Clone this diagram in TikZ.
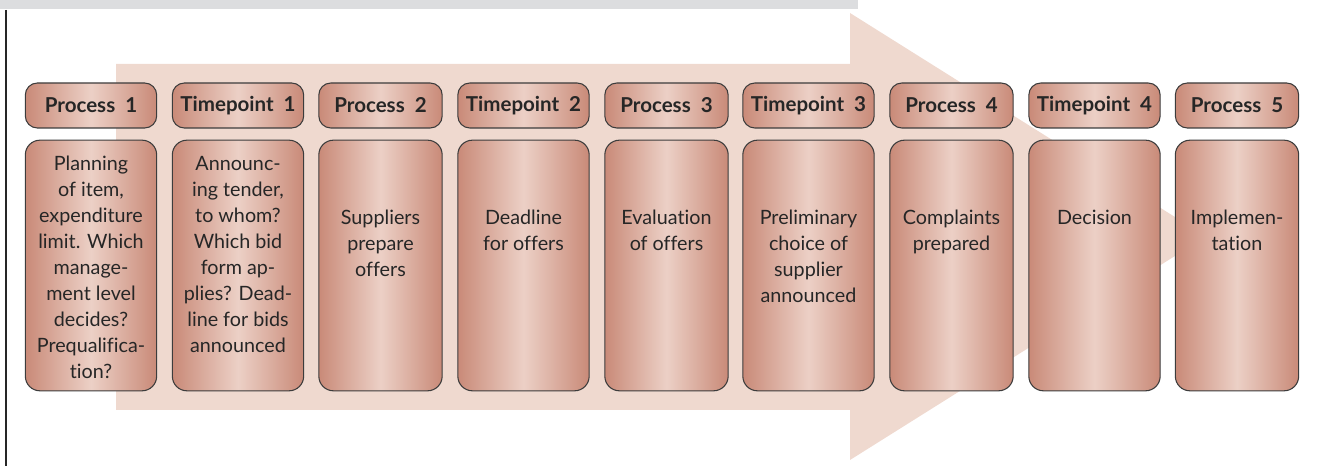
\documentclass[tikz,border=0pt]{standalone}
\usepackage{fontspec}
\setmainfont{Lato}[Ligatures=NoCommon]
\definecolor{arrowc}{HTML}{EFD9CF}
\definecolor{boxedge}{HTML}{C98A78}
\definecolor{boxmid}{HTML}{ECD0C6}
\definecolor{boxline}{HTML}{3C3C3C}
\definecolor{barc}{HTML}{DCDDDF}
\definecolor{txt}{HTML}{262626}
\begin{document}
\begin{tikzpicture}[x=0.75pt,y=-0.75pt,
  boxbase/.style={draw=boxline, line width=0.8pt, left color=boxedge, right color=boxedge, middle color=boxmid, inner sep=0pt},
  hdr/.style={boxbase, rounded corners=9pt, minimum height=33.75pt, font={\fontsize{15.4}{18}\bfseries\selectfont}, text=txt},
  bodybox/.style={boxbase, rounded corners=11pt, minimum height=188pt},
  bodytext/.style={anchor=north, inner sep=0pt, align=center, text=txt, font={\fontsize{14.8}{19.5}\selectfont}},
  pw/.style={minimum width=92.5pt},
  tw/.style={minimum width=98.5pt}]
\useasboundingbox (0,0) rectangle (1318,466);
% top bar and left rule
\fill[barc] (0,0) rectangle (858,9.5);
\draw[line width=1.8pt, black!85] (6,10) -- (6,466);
% big arrow
\fill[arrowc] (116,64) -- (850,64) -- (850,13) -- (1206,236.5) -- (850,460) -- (850,410) -- (116,410) -- cycle;
% headers
\node[hdr,tw] (h1) at (91,105.5) {Process\ \ 1};
\node[hdr,tw] (h2) at (238,105.5) {Timepoint\ \ 1};
\node[hdr,pw] (h3) at (380.5,105.5) {Process\ \ 2};
\node[hdr,tw] (h4) at (523.5,105.5) {Timepoint\ \ 2};
\node[hdr,pw] (h5) at (666.5,105.5) {Process\ \ 3};
\node[hdr,tw] (h6) at (808.5,105.5) {Timepoint\ \ 3};
\node[hdr,pw] (h7) at (951.5,105.5) {Process\ \ 4};
\node[hdr,tw] (h8) at (1094.5,105.5) {Timepoint\ \ 4};
\node[hdr,pw] (h9) at (1237,105.5) {Process\ \ 5};
% bodies
\node[bodybox,tw] (b1) at (91,265.5) {};
\node[bodybox,tw] (b2) at (238,265.5) {};
\node[bodybox,pw] (b3) at (380.5,265.5) {};
\node[bodybox,tw] (b4) at (523.5,265.5) {};
\node[bodybox,pw] (b5) at (666.5,265.5) {};
\node[bodybox,tw] (b6) at (808.5,265.5) {};
\node[bodybox,pw] (b7) at (951.5,265.5) {};
\node[bodybox,tw] (b8) at (1094.5,265.5) {};
\node[bodybox,pw] (b9) at (1237,265.5) {};
% body texts
\node[bodytext] (t1) at (91,156) {Planning\\of item,\\expenditure\\limit. Which\\manage-\\ment level\\decides?\\Prequalifica-\\tion?};
\node[bodytext] (t2) at (238,156) {Announc-\\ing tender,\\to whom?\\Which bid\\form ap-\\plies? Dead-\\line for bids\\announced};
\node[bodytext] (t3) at (380.5,210) {Suppliers\\prepare\\offers};
\node[bodytext] (t4) at (523.5,210) {Deadline\\for offers};
\node[bodytext] (t5) at (666.5,210) {Evaluation\\of offers};
\node[bodytext] (t6) at (808.5,210) {Preliminary\\choice of\\supplier\\announced};
\node[bodytext] (t7) at (951.5,210) {Complaints\\prepared};
\node[bodytext] (t8) at (1094.5,210) {Decision};
\node[bodytext] (t9) at (1237,210) {Implemen-\\tation};
\end{tikzpicture}
\end{document}
